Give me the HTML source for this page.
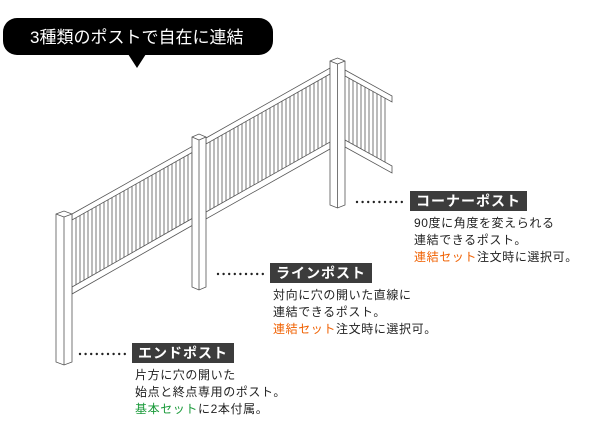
<!DOCTYPE html>
<html><head><meta charset="utf-8"><style>
body{margin:0;background:#fff;width:600px;height:432px;overflow:hidden;position:relative;font-family:"Liberation Sans","Noto Sans CJK JP",sans-serif}
.lbl{position:absolute;background:#3c3c3c;color:#fff;font-weight:bold;font-size:14px;line-height:20px;padding:0 6px;letter-spacing:1px}
.txt{position:absolute;font-size:12px;line-height:17px;color:#222;letter-spacing:0.6px}
.o{color:#f06000}.g{color:#1a9a3a}
</style></head><body>
<svg id="s" width="600" height="432" style="position:absolute;left:0;top:0">
<rect x="3" y="18" width="270" height="37" rx="14" fill="#000"/>
<polygon points="128,54 146,54 137,68" fill="#000"/>
<text x="30" y="43" fill="#fff" font-size="17" font-family="Liberation Sans,Noto Sans CJK JP,sans-serif">3種類のポストで自在に連結</text>
<g id="f" stroke="#555" stroke-width="0.8" fill="#fff"></g>
<g id="d" fill="#222"></g>
</svg>
<div class="lbl" style="left:410px;top:191px">コーナーポスト</div>
<div class="txt" style="left:414px;top:215px">90度に角度を変えられる<br>連結できるポスト。<br><span class="o">連結セット</span>注文時に選択可。</div>
<div class="lbl" style="left:270px;top:263px">ラインポスト</div>
<div class="txt" style="left:273px;top:287px">対向に穴の開いた直線に<br>連結できるポスト。<br><span class="o">連結セット</span>注文時に選択可。</div>
<div class="lbl" style="left:132px;top:343px">エンドポスト</div>
<div class="txt" style="left:135px;top:367px">片方に穴の開いた<br>始点と終点専用のポスト。<br><span class="g">基本セット</span>に2本付属。</div>
<script>
var g=document.getElementById('f'),h='';
function L(a,b,c,d){h+='<line x1="'+a+'" y1="'+b+'" x2="'+c+'" y2="'+d+'"/>';}
function sec(x0,x1,u0,u1,l0,l1,st){
 var k=(u1-u0)/(x1-x0),m=(l1-l0)/(x1-x0);
 for(var x=x0+4;x<x1-3;x+=st){
  for(var d=0;d<5;d+=4){var xx=x+d;L(xx,u0+k*(xx-x0)+6,xx,l0+m*(xx-x0));}
 }
 h+='<polygon points="'+x0+','+u0+' '+x1+','+u1+' '+x1+','+(u1+6)+' '+x0+','+(u0+6)+'"/>';
 h+='<polygon points="'+x0+','+l0+' '+x1+','+l1+' '+x1+','+(l1+7)+' '+x0+','+(l0+7)+'"/>';
}
sec(72,193,214,146,287,218,8);
sec(206,330,138,68,212,142,8);
sec(345,392,70,96,140,166,8);
function post(x,t,b,w){
 h+='<polygon points="'+x+','+(t+3)+' '+(x+w/2)+','+t+' '+(x+w)+','+(t+3)+' '+(x+w)+','+b+' '+(x+w/2)+','+(b+3)+' '+x+','+b+'"/>';
 L(x+w/2,t+6,x+w/2,b+3);L(x,t+3,x+w/2,t+6);L(x+w/2,t+6,x+w,t+3);
}
post(56,211,362,16);post(192,134,287,14);post(330,58,205,15);
g.innerHTML=h;
var dd='';
function dots(x,y){for(var i=0;i<9;i++)dd+='<circle cx="'+(x+i*5.6)+'" cy="'+y+'" r="1.2"/>';}
dots(357,202);dots(218,274);dots(80,354);
document.getElementById('d').innerHTML=dd;
</script>
</body></html>
